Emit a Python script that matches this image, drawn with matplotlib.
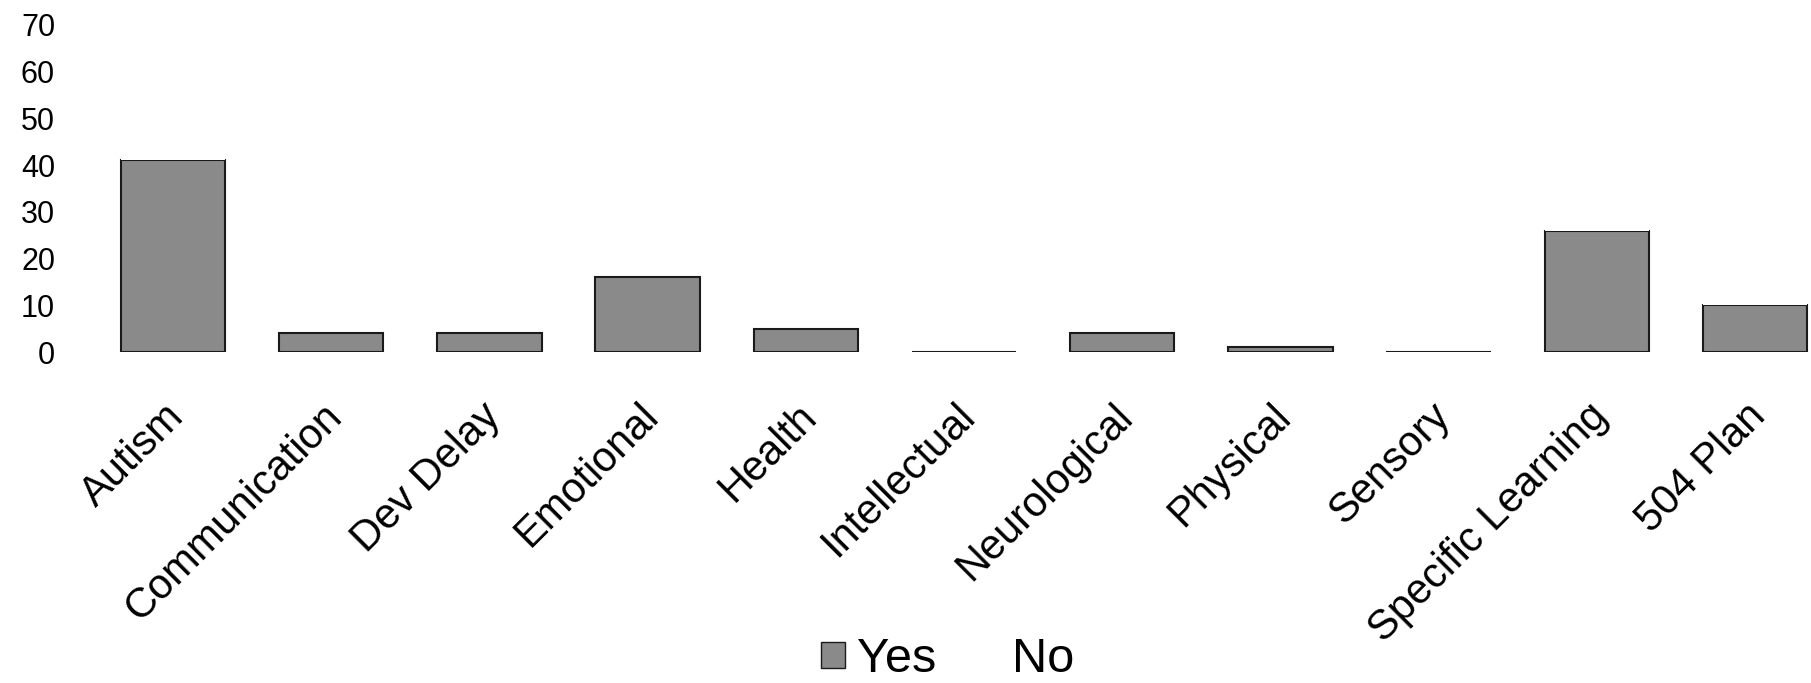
import numpy as np
import matplotlib.pyplot as plt
import matplotlib.transforms as mtransforms
from matplotlib.patches import Patch

plt.rcParams['font.family'] = ['Liberation Sans', 'DejaVu Sans']

# disability category counts
categories = ['Autism', 'Communication', 'Dev Delay', 'Emotional', 'Health',
              'Intellectual', 'Neurological', 'Physical', 'Sensory',
              'Specific Learning', '504 Plan']
yes_counts = [41, 4, 4, 16, 5, 0, 4, 1, 0, 26, 10]
no_counts = [17, 0, 0, 0, 0, 0, 0, 0, 0, 18, 11]
y_ticks = [0, 10, 20, 30, 40, 50, 60, 70]

fig = plt.figure(figsize=(18.11, 6.83), dpi=100)
ax = fig.add_axes([0.0519, 0.4846, 0.9608, 0.4788])

x = np.arange(len(categories))
ax.bar(x, yes_counts, width=0.66, color='#8a8a8a', edgecolor='#1a1a1a',
       linewidth=1.5, label='Yes')
ax.bar(x, no_counts, width=0.66, bottom=yes_counts, color='white',
       edgecolor='none', label='No')

ax.set_xlim(-0.5, len(categories) - 0.5)
ax.set_ylim(0, 70)
ax.set_yticks(y_ticks)
ax.set_yticklabels([str(t) for t in y_ticks], fontsize=22)
ax.tick_params(axis='y', length=0, pad=28)
ax.set_xticks([])
for s in ax.spines.values():
    s.set_visible(False)

# rotated category labels hanging under each bar
offset = mtransforms.ScaledTranslation(0.05, -0.58, fig.dpi_scale_trans)
for i, name in enumerate(categories):
    ax.text(i, 0, name, rotation=45, rotation_mode='anchor', ha='right',
            va='center', fontsize=30, transform=ax.transData + offset)

handles = [Patch(facecolor='#8a8a8a', edgecolor='#1a1a1a', linewidth=1.0),
           Patch(facecolor='white', edgecolor='none')]
fig.legend(handles, ['Yes', 'No'], loc='center', bbox_to_anchor=(0.523, 0.034),
           ncol=2, frameon=False, fontsize=35, handlelength=0.5,
           handleheight=0.45, handletextpad=0.25, columnspacing=0.8)

fig.savefig('out.png', dpi=100, facecolor='white')
